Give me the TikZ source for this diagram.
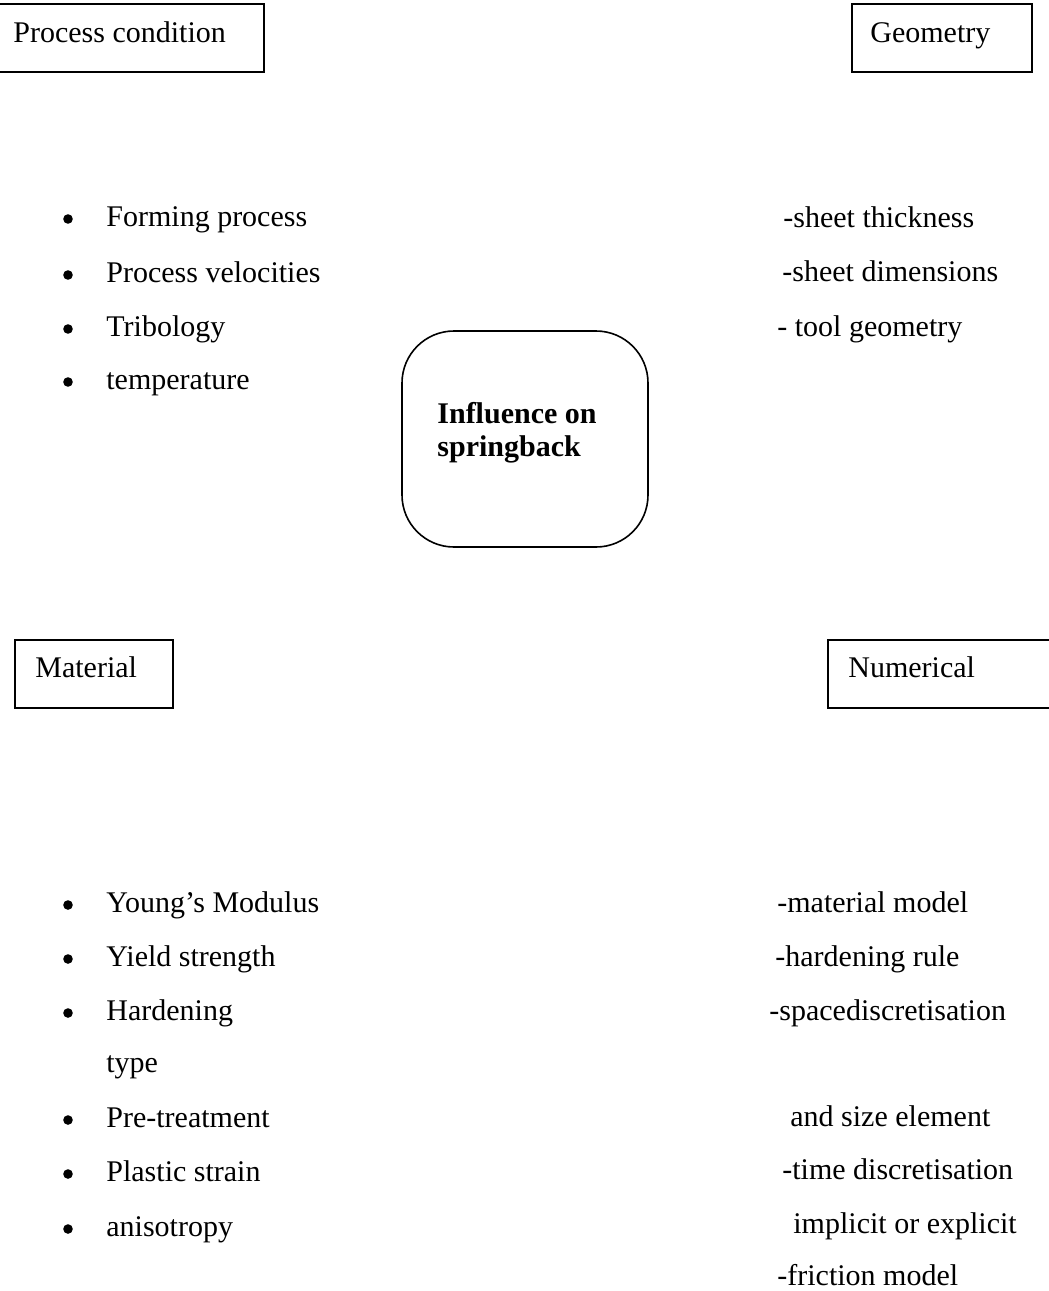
\documentclass[tikz,border=0pt]{standalone}
\usepackage{fontspec}
\setmainfont{Liberation Serif}

\begin{document}
\begin{tikzpicture}[x=0.5pt,y=-0.5pt,
  txt/.style={inner sep=0pt,anchor=base west,font=\fontsize{15}{18}\selectfont},
  dot/.style={circle,fill,inner sep=0pt,minimum size=4.8pt}]
  \useasboundingbox (0,0) rectangle (1049,1291);
  \clip (0,0) rectangle (1049,1291);

  % category boxes
  \draw[line width=1pt] (-6,4) rectangle (264,72);
  \draw[line width=1pt] (852,4) rectangle (1032,72);
  \draw[line width=1pt] (15,640) rectangle (173,708);
  \draw[line width=1pt] (828,640) rectangle (1060,708);
  \node[txt] (proc) at (13,42) {Process condition};
  \node[txt] (geom) at (870,42) {Geometry};
  \node[txt] (mat) at (35,677) {Material};
  \node[txt] (num) at (848,677) {Numerical};

  % centre
  \draw[line width=0.8pt,rounded corners=26pt] (402,331) rectangle (648,547);
  \node[txt,font=\fontsize{15}{18}\selectfont\bfseries] (infl) at (437,423) {Influence on};
  \node[txt,font=\fontsize{15}{18}\selectfont\bfseries] (spring) at (437,456) {springback};

  % process condition list
  \node[dot] (b1) at (68,219) {};
  \node[dot] (b2) at (68,275) {};
  \node[dot] (b3) at (68,329) {};
  \node[dot] (b4) at (68,382) {};
  \node[txt] (form) at (106,226) {Forming process};
  \node[txt] (velo) at (106,282) {Process velocities};
  \node[txt] (trib) at (106,336) {Tribology};
  \node[txt] (temp) at (106,389) {temperature};

  % geometry list
  \node[txt] (thick) at (783,227) {-sheet thickness};
  \node[txt] (dims) at (782,281) {-sheet dimensions};
  \node[txt] (tool) at (777,336) {- tool geometry};

  % material list
  \node[dot] (b5) at (68,905) {};
  \node[dot] (b6) at (68,959) {};
  \node[dot] (b7) at (68,1013) {};
  \node[dot] (b8) at (68,1120) {};
  \node[dot] (b9) at (68,1174) {};
  \node[dot] (b10) at (68,1229) {};
  \node[txt] (young) at (106,912) {Young’s Modulus};
  \node[txt] (yield) at (106,966) {Yield strength};
  \node[txt] (hard) at (106,1020) {Hardening};
  \node[txt] (type) at (106,1072) {type};
  \node[txt] (pret) at (106,1127) {Pre-treatment};
  \node[txt] (plast) at (106,1181) {Plastic strain};
  \node[txt] (aniso) at (106,1236) {anisotropy};

  % numerical list
  \node[txt] (model) at (777,912) {-material model};
  \node[txt] (rule) at (775,966) {-hardening rule};
  \node[txt] (space) at (769,1020) {-spacediscretisation};
  \node[txt] (size) at (790,1126) {and size element};
  \node[txt] (time) at (782,1179) {-time discretisation};
  \node[txt] (impl) at (793,1233) {implicit or explicit};
  \node[txt] (fric) at (777,1285) {-friction model};
\end{tikzpicture}
\end{document}
